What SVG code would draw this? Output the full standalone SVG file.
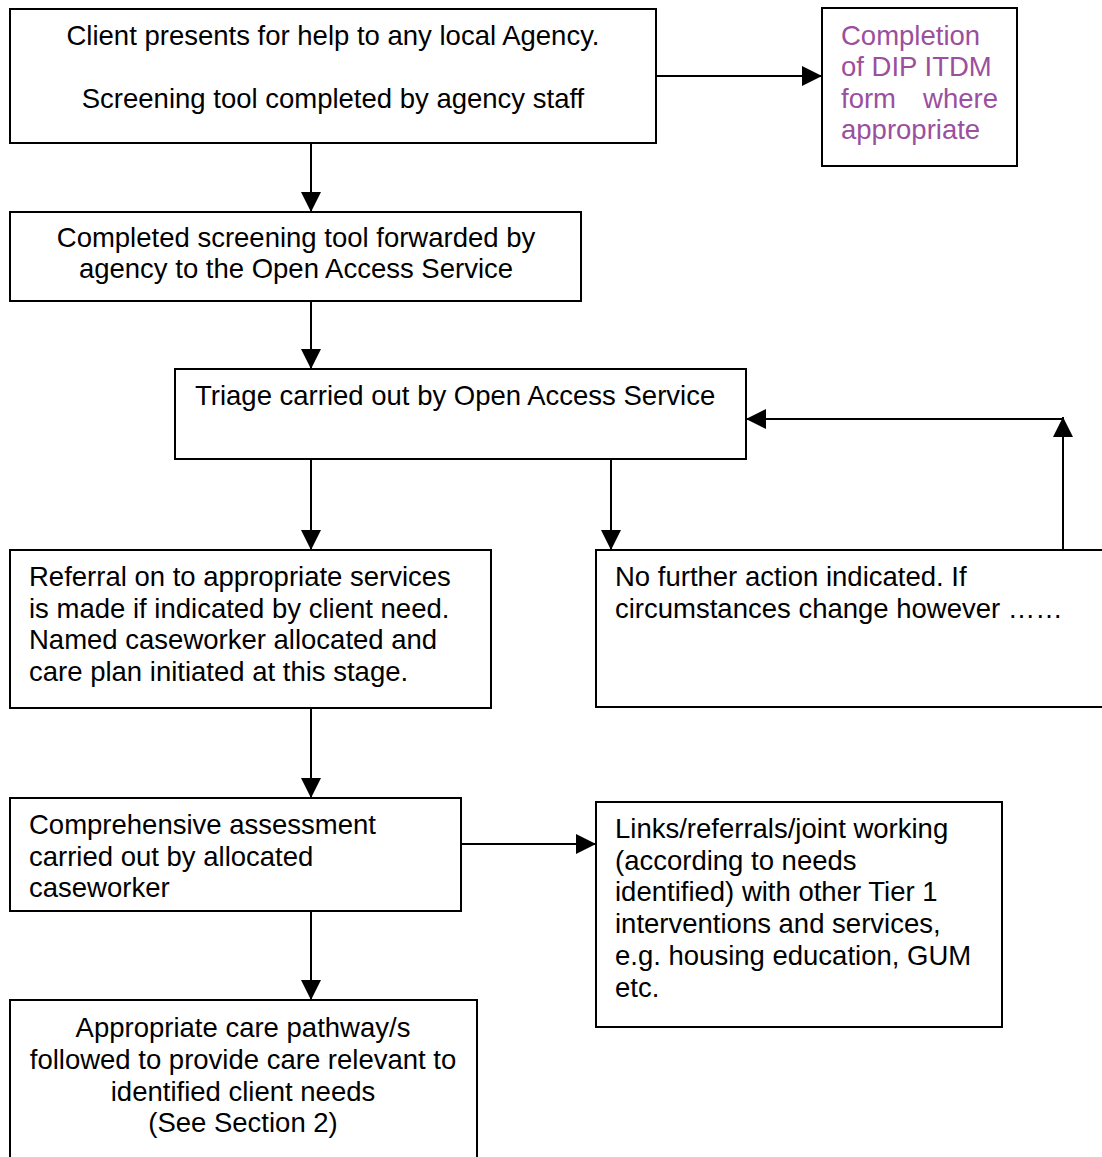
<svg xmlns="http://www.w3.org/2000/svg" width="1102" height="1157" viewBox="0 0 1102 1157">
  <style>
    .box { fill: #ffffff; stroke: #000000; stroke-width: 2; }
    .t { font-family: "Liberation Sans", Arial, sans-serif; font-size: 27.5px; fill: #000000; }
    .c { text-anchor: middle; }
    .purple { fill: #9b4f9e; }
    .conn { fill: none; stroke: #000000; stroke-width: 2; }
  </style>
  <defs>
    <marker id="arrow" viewBox="0 0 20 20" refX="20" refY="10" markerWidth="20" markerHeight="20" markerUnits="userSpaceOnUse" orient="auto">
      <path d="M0,0 L20,10 L0,20 Z" fill="#000000"/>
    </marker>
  </defs>
  <rect width="1102" height="1157" fill="#ffffff"/>

  <g id="connectors">
    <line class="conn" x1="656" y1="76" x2="822" y2="76" marker-end="url(#arrow)"/>
    <line class="conn" x1="311" y1="143" x2="311" y2="212" marker-end="url(#arrow)"/>
    <line class="conn" x1="311" y1="301" x2="311" y2="369" marker-end="url(#arrow)"/>
    <line class="conn" x1="311" y1="459" x2="311" y2="550" marker-end="url(#arrow)"/>
    <line class="conn" x1="611" y1="459" x2="611" y2="550" marker-end="url(#arrow)"/>
    <line class="conn" x1="1063" y1="550" x2="1063" y2="417" marker-end="url(#arrow)"/>
    <line class="conn" x1="1063" y1="419" x2="746" y2="419" marker-end="url(#arrow)"/>
    <line class="conn" x1="311" y1="708" x2="311" y2="798" marker-end="url(#arrow)"/>
    <line class="conn" x1="461" y1="844" x2="596" y2="844" marker-end="url(#arrow)"/>
    <line class="conn" x1="311" y1="911" x2="311" y2="1000" marker-end="url(#arrow)"/>
  </g>

  <g id="client-presents">
    <rect class="box" x="10" y="9" width="646" height="134"/>
    <text class="t c" x="333" y="45">Client presents for help to any local Agency.</text>
    <text class="t c" x="333" y="108">Screening tool completed by agency staff</text>
  </g>

  <g id="dip-itdm">
    <rect class="box" x="822" y="8" width="195" height="158"/>
    <text class="t purple" x="841" y="45">Completion</text>
    <text class="t purple" x="841" y="76">of DIP ITDM</text>
    <text class="t purple" x="841" y="108">form</text>
    <text class="t purple" x="998" y="108" text-anchor="end">where</text>
    <text class="t purple" x="841" y="139">appropriate</text>
  </g>

  <g id="forwarded">
    <rect class="box" x="10" y="212" width="571" height="89"/>
    <text class="t c" x="296" y="247">Completed screening tool forwarded by</text>
    <text class="t c" x="296" y="278">agency to the Open Access Service</text>
  </g>

  <g id="triage">
    <rect class="box" x="175" y="369" width="571" height="90"/>
    <text class="t" x="195" y="405">Triage carried out by Open Access Service</text>
  </g>

  <g id="referral">
    <rect class="box" x="10" y="550" width="481" height="158"/>
    <text class="t" x="29" y="586">Referral on to appropriate services</text>
    <text class="t" x="29" y="618">is made if indicated by client need.</text>
    <text class="t" x="29" y="649">Named caseworker allocated and</text>
    <text class="t" x="29" y="681">care plan initiated at this stage.</text>
  </g>

  <g id="no-further-action">
    <rect class="box" x="596" y="550" width="520" height="157"/>
    <text class="t" x="615" y="586">No further action indicated. If</text>
    <text class="t" x="615" y="618">circumstances change however ……</text>
  </g>

  <g id="assessment">
    <rect class="box" x="10" y="798" width="451" height="113"/>
    <text class="t" x="29" y="834">Comprehensive assessment</text>
    <text class="t" x="29" y="866">carried out by allocated</text>
    <text class="t" x="29" y="897">caseworker</text>
  </g>

  <g id="links">
    <rect class="box" x="596" y="802" width="406" height="225"/>
    <text class="t" x="615" y="838">Links/referrals/joint working</text>
    <text class="t" x="615" y="870">(according to needs</text>
    <text class="t" x="615" y="901">identified) with other Tier 1</text>
    <text class="t" x="615" y="933">interventions and services,</text>
    <text class="t" x="615" y="965">e.g. housing education, GUM</text>
    <text class="t" x="615" y="997">etc.</text>
  </g>

  <g id="care-pathway">
    <rect class="box" x="10" y="1000" width="467" height="170"/>
    <text class="t c" x="243" y="1037">Appropriate care pathway/s</text>
    <text class="t c" x="243" y="1069">followed to provide care relevant to</text>
    <text class="t c" x="243" y="1101">identified client needs</text>
    <text class="t c" x="243" y="1132">(See Section 2)</text>
  </g>
</svg>
